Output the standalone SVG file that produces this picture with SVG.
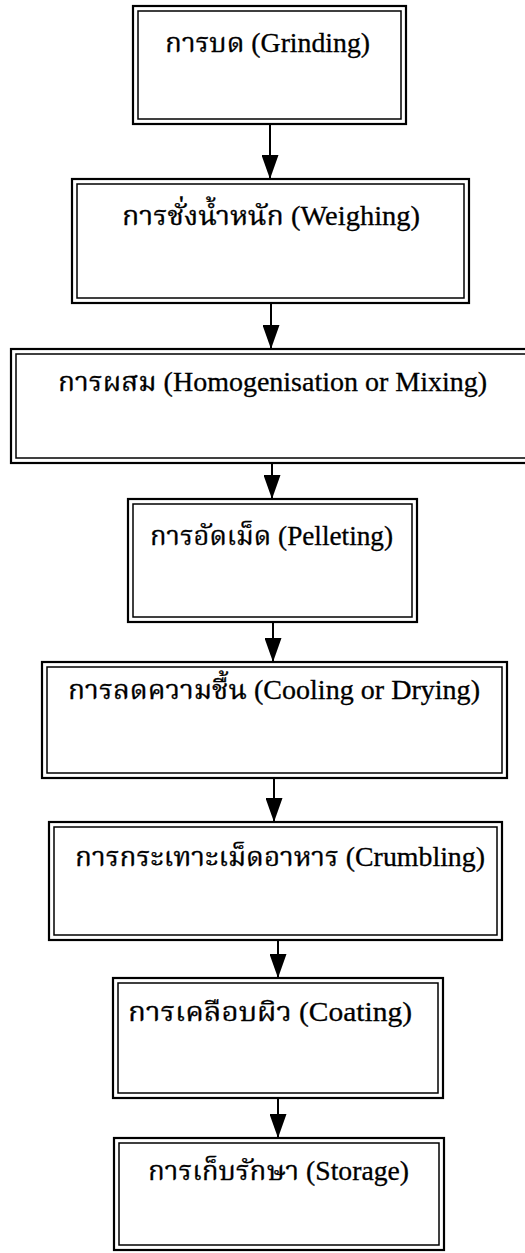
<svg xmlns="http://www.w3.org/2000/svg" width="525" height="1253" viewBox="0 0 525 1253">
  <style>
    .outer { fill: none; stroke: #000; stroke-width: 2.2; }
    .inner { fill: none; stroke: #000; stroke-width: 1.5; }
    .lbl { font-family: "Liberation Serif", "Noto Serif Thai", "Noto Sans Thai", "Garuda", "Loma", "Tlwg Typo", serif; font-size: 27px; fill: #000; stroke: #000; stroke-width: 0.3; }
    .conn { stroke: #000; stroke-width: 2; fill: none; }
  </style>
  <defs>
    <marker id="arrow" markerUnits="userSpaceOnUse" markerWidth="24" markerHeight="17" refX="24" refY="8.5" orient="auto" viewBox="0 0 24 17">
      <path d="M0,0 L24,8.5 L0,17 Z" fill="#000"/>
    </marker>
  </defs>
  <rect width="525" height="1253" fill="#fff"/>

  <g id="node-grinding">
    <rect class="outer" x="133" y="6" width="273" height="118"/>
    <rect class="inner" x="138" y="11" width="263" height="108"/>
    <text class="lbl" x="165" y="52" textLength="205" lengthAdjust="spacingAndGlyphs">การบด (Grinding)</text>
  </g>
  <g id="node-weighing">
    <rect class="outer" x="72" y="179" width="397" height="124"/>
    <rect class="inner" x="77" y="184" width="387" height="114"/>
    <text class="lbl" x="122" y="225" textLength="298" lengthAdjust="spacingAndGlyphs">การชั่งน้ำหนัก (Weighing)</text>
  </g>
  <g id="node-mixing">
    <rect class="outer" x="11" y="349" width="524" height="114"/>
    <rect class="inner" x="16" y="354" width="514" height="104"/>
    <text class="lbl" x="58" y="391" textLength="429" lengthAdjust="spacingAndGlyphs">การผสม (Homogenisation or Mixing)</text>
  </g>
  <g id="node-pelleting">
    <rect class="outer" x="128" y="499" width="289" height="123"/>
    <rect class="inner" x="133" y="504" width="279" height="113"/>
    <text class="lbl" x="150" y="545" textLength="243" lengthAdjust="spacingAndGlyphs">การอัดเม็ด (Pelleting)</text>
  </g>
  <g id="node-cooling">
    <rect class="outer" x="42" y="662" width="465" height="116"/>
    <rect class="inner" x="47" y="667" width="455" height="106"/>
    <text class="lbl" x="68" y="699" textLength="412" lengthAdjust="spacingAndGlyphs">การลดความชื้น (Cooling or Drying)</text>
  </g>
  <g id="node-crumbling">
    <rect class="outer" x="49" y="822" width="453" height="118"/>
    <rect class="inner" x="54" y="827" width="443" height="108"/>
    <text class="lbl" x="75" y="866" textLength="410" lengthAdjust="spacingAndGlyphs">การกระเทาะเม็ดอาหาร (Crumbling)</text>
  </g>
  <g id="node-coating">
    <rect class="outer" x="113" y="978" width="330" height="120"/>
    <rect class="inner" x="118" y="983" width="320" height="110"/>
    <text class="lbl" x="128" y="1021" textLength="284" lengthAdjust="spacingAndGlyphs">การเคลือบผิว (Coating)</text>
  </g>
  <g id="node-storage">
    <rect class="outer" x="114" y="1138" width="330" height="112"/>
    <rect class="inner" x="119" y="1143" width="320" height="102"/>
    <text class="lbl" x="148" y="1180" textLength="261" lengthAdjust="spacingAndGlyphs">การเก็บรักษา (Storage)</text>
  </g>

  <g id="connectors">
    <line class="conn" x1="270" y1="124" x2="270" y2="179" marker-end="url(#arrow)"/>
    <line class="conn" x1="271" y1="303" x2="271" y2="349" marker-end="url(#arrow)"/>
    <line class="conn" x1="272" y1="463" x2="272" y2="499" marker-end="url(#arrow)"/>
    <line class="conn" x1="273" y1="622" x2="273" y2="662" marker-end="url(#arrow)"/>
    <line class="conn" x1="274" y1="778" x2="274" y2="822" marker-end="url(#arrow)"/>
    <line class="conn" x1="278" y1="940" x2="278" y2="978" marker-end="url(#arrow)"/>
    <line class="conn" x1="278" y1="1098" x2="278" y2="1138" marker-end="url(#arrow)"/>
  </g>
</svg>
